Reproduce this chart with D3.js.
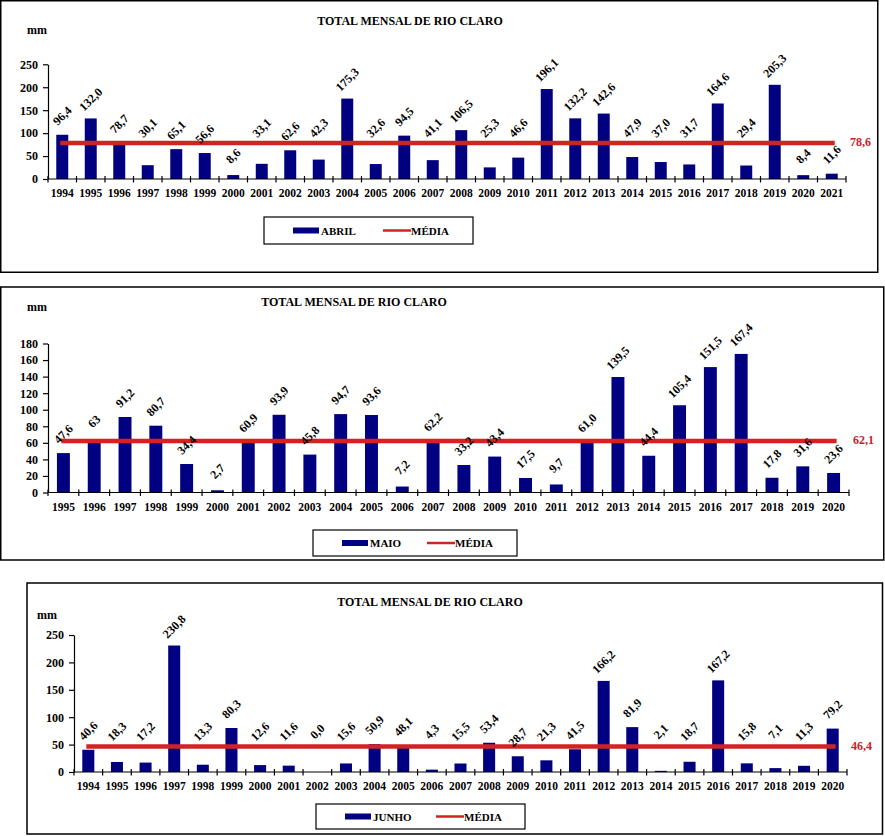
<!DOCTYPE html>
<html>
<head>
<meta charset="utf-8">
<script src="https://cdn.jsdelivr.net/npm/d3@7"></script>
<style>
  body { margin: 0; background: #fff; }
  text { font-family: "Liberation Serif", "Times New Roman", serif; font-weight: bold; }
</style>
</head>
<body>
<svg id="chart" width="885" height="836"></svg>
<script>
// values kept exactly as printed on the chart (comma decimals)
const abrilYears = ['1994','1995','1996','1997','1998','1999','2000','2001','2002','2003','2004','2005','2006','2007',
  '2008','2009','2010','2011','2012','2013','2014','2015','2016','2017','2018','2019','2020','2021']
const abrilValues = ['96,4','132,0','78,7','30,1','65,1','56,6','8,6','33,1','62,6','42,3','175,3','32,6','94,5','41,1',
  '106,5','25,3','46,6','196,1','132,2','142,6','47,9','37,0','31,7','164,6','29,4','205,3','8,4','11,6']
const abrilMean = '78,6'

const maioYears = ['1995','1996','1997','1998','1999','2000','2001','2002','2003','2004','2005','2006','2007',
  '2008','2009','2010','2011','2012','2013','2014','2015','2016','2017','2018','2019','2020']
const maioValues = ['47,6','63','91,2','80,7','34,4','2,7','60,9','93,9','45,8','94,7','93,6','7,2','62,2',
  '33,2','43,4','17,5','9,7','61,0','139,5','44,4','105,4','151,5','167,4','17,8','31,6','23,6']
const maioMean = '62,1'

const junhoYears = ['1994','1995','1996','1997','1998','1999','2000','2001','2002','2003','2004','2005','2006','2007',
  '2008','2009','2010','2011','2012','2013','2014','2015','2016','2017','2018','2019','2020']
const junhoValues = ['40,6','18,3','17,2','230,8','13,3','80,3','12,6','11,6','0,0','15,6','50,9','48,1','4,3','15,5',
  '53,4','28,7','21,3','41,5','166,2','81,9','2,1','18,7','167,2','15,8','7,1','11,3','79,2']
const junhoMean = '46,4'

const titleText = 'TOTAL MENSAL DE RIO CLARO'
const unitText = 'mm'
const meanName = 'MÉDIA'

const BAR = '#000080'
const RED = '#d42222'
const num = s => +s.replace(',', '.')

const panels = [
  { name: 'ABRIL', years: abrilYears, values: abrilValues, mean: abrilMean, yMax: 250, yStep: 50,
    frame: { x: 0.75, y: 0.75, w: 877, h: 271.5 }, plot: { x0: 48, x1: 846, y0: 179, y1: 64.3 },
    title: { x: 410, y: 21 }, unit: { x: 27, y: 30 }, legend: { x: 264, y: 217, w: 209, h: 27, red: 119 },
    avoidMean: true },
  { name: 'MAIO', years: maioYears, values: maioValues, mean: maioMean, yMax: 180, yStep: 20,
    frame: { x: 0.75, y: 287, w: 883, h: 273 }, plot: { x0: 48, x1: 849, y0: 492.5, y1: 343.5 },
    title: { x: 354, y: 302 }, unit: { x: 27, y: 307 }, legend: { x: 313, y: 530, w: 204, h: 26, red: 114 },
    avoidMean: false },
  { name: 'JUNHO', years: junhoYears, values: junhoValues, mean: junhoMean, yMax: 250, yStep: 50,
    frame: { x: 27, y: 583, w: 855.5, h: 251 }, plot: { x0: 74, x1: 847, y0: 772, y1: 635 },
    title: { x: 430, y: 602 }, unit: { x: 37, y: 615 }, legend: { x: 316, y: 804, w: 209, h: 25, red: 120 },
    avoidMean: true }
]

const svg = d3.select('#chart')

panels.forEach(p => drawPanel(p))

function drawPanel(p) {
  const g = svg.append('g')
  const { x0, x1, y0, y1 } = p.plot

  g.append('rect')
    .attr('x', p.frame.x).attr('y', p.frame.y)
    .attr('width', p.frame.w).attr('height', p.frame.h)
    .attr('fill', 'none').attr('stroke', '#000').attr('stroke-width', 1.5)

  const x = d3.scaleBand().domain(p.years).range([x0, x1]).paddingInner(0.58).paddingOuter(0.29)
  const y = d3.scaleLinear().domain([0, p.yMax]).range([y0, y1])
  const step = x.step()
  const bw = x.bandwidth()
  const cx = d => x(d) + bw / 2

  /* title + unit */
  g.append('text').attr('x', p.title.x).attr('y', p.title.y)
    .attr('text-anchor', 'middle').attr('dominant-baseline', 'central')
    .attr('font-size', '12px').text(titleText)
  g.append('text').attr('x', p.unit.x).attr('y', p.unit.y)
    .attr('dominant-baseline', 'central').attr('font-size', '12px').text(unitText)

  /* y axis */
  const yAxis = g.append('g')
    .attr('transform', `translate(${x0},0)`)
    .call(d3.axisLeft(y)
      .tickValues(d3.range(0, p.yMax + 1, p.yStep))
      .tickSize(5).tickSizeOuter(0).tickPadding(5)
      .tickFormat(d3.format('d')))
  yAxis.selectAll('path, line').attr('stroke', '#000').attr('stroke-width', 1.2)
  yAxis.selectAll('text').attr('font-size', '12px').attr('fill', '#000')
    .style('font-family', '"Liberation Serif", "Times New Roman", serif').style('font-weight', 'bold')

  /* bars */
  const data = p.years.map((yr, i) => ({ yr, label: p.values[i], v: num(p.values[i]) }))
  g.append('g').selectAll('rect').data(data).join('rect')
    .attr('x', d => x(d.yr)).attr('width', bw)
    .attr('y', d => y(d.v)).attr('height', d => y0 - y(d.v))
    .attr('fill', BAR)

  /* x axis with crossing ticks at category boundaries */
  g.append('line').attr('x1', x0).attr('x2', x1).attr('y1', y0).attr('y2', y0)
    .attr('stroke', '#000').attr('stroke-width', 1.2)
  g.append('g').selectAll('line').data(d3.range(p.years.length + 1)).join('line')
    .attr('x1', i => x0 + i * step).attr('x2', i => x0 + i * step)
    .attr('y1', y0 - 3).attr('y2', y0 + 3.5)
    .attr('stroke', '#000').attr('stroke-width', 1.2)
  g.append('g').selectAll('text').data(p.years).join('text')
    .attr('x', d => cx(d)).attr('y', y0 + 14)
    .attr('text-anchor', 'middle').attr('dominant-baseline', 'central')
    .attr('font-size', '11.5px').text(d => d)

  /* mean line */
  const meanV = num(p.mean)
  const my = y(meanV)
  g.append('line')
    .attr('x1', cx(p.years[0]) - 2).attr('x2', cx(p.years[p.years.length - 1]) + 3)
    .attr('y1', my).attr('y2', my)
    .attr('stroke', RED).attr('stroke-width', 4.5)
  g.append('text').attr('x', x1 + 4).attr('y', my - 1)
    .attr('dominant-baseline', 'central').attr('font-size', '12px')
    .attr('fill', '#c8202a').text(p.mean)

  /* rotated value labels */
  g.append('g').selectAll('text').data(data).join('text')
    .attr('transform', d => {
      let ly = y(d.v) - 19
      if (p.avoidMean && ly > my - 7 && ly < my + 10) ly = my - 15
      return `translate(${cx(d.yr)},${ly}) rotate(-45)`
    })
    .attr('text-anchor', 'middle').attr('dominant-baseline', 'central')
    .attr('font-size', '12px').text(d => d.label)

  /* legend */
  const L = p.legend
  const ly = L.y + L.h / 2
  const lg = g.append('g')
  lg.append('rect').attr('x', L.x).attr('y', L.y).attr('width', L.w).attr('height', L.h)
    .attr('fill', '#fff').attr('stroke', '#000').attr('stroke-width', 1.2)
  lg.append('rect').attr('x', L.x + 29).attr('y', ly - 3).attr('width', 26).attr('height', 6).attr('fill', BAR)
  lg.append('text').attr('x', L.x + 57).attr('y', ly).attr('dominant-baseline', 'central')
    .attr('font-size', '11px').text(p.name)
  lg.append('line').attr('x1', L.x + L.red).attr('x2', L.x + L.red + 28).attr('y1', ly).attr('y2', ly)
    .attr('stroke', RED).attr('stroke-width', 2.5)
  lg.append('text').attr('x', L.x + L.red + 28).attr('y', ly).attr('dominant-baseline', 'central')
    .attr('font-size', '11px').text(meanName)
}
</script>
</body>
</html>
